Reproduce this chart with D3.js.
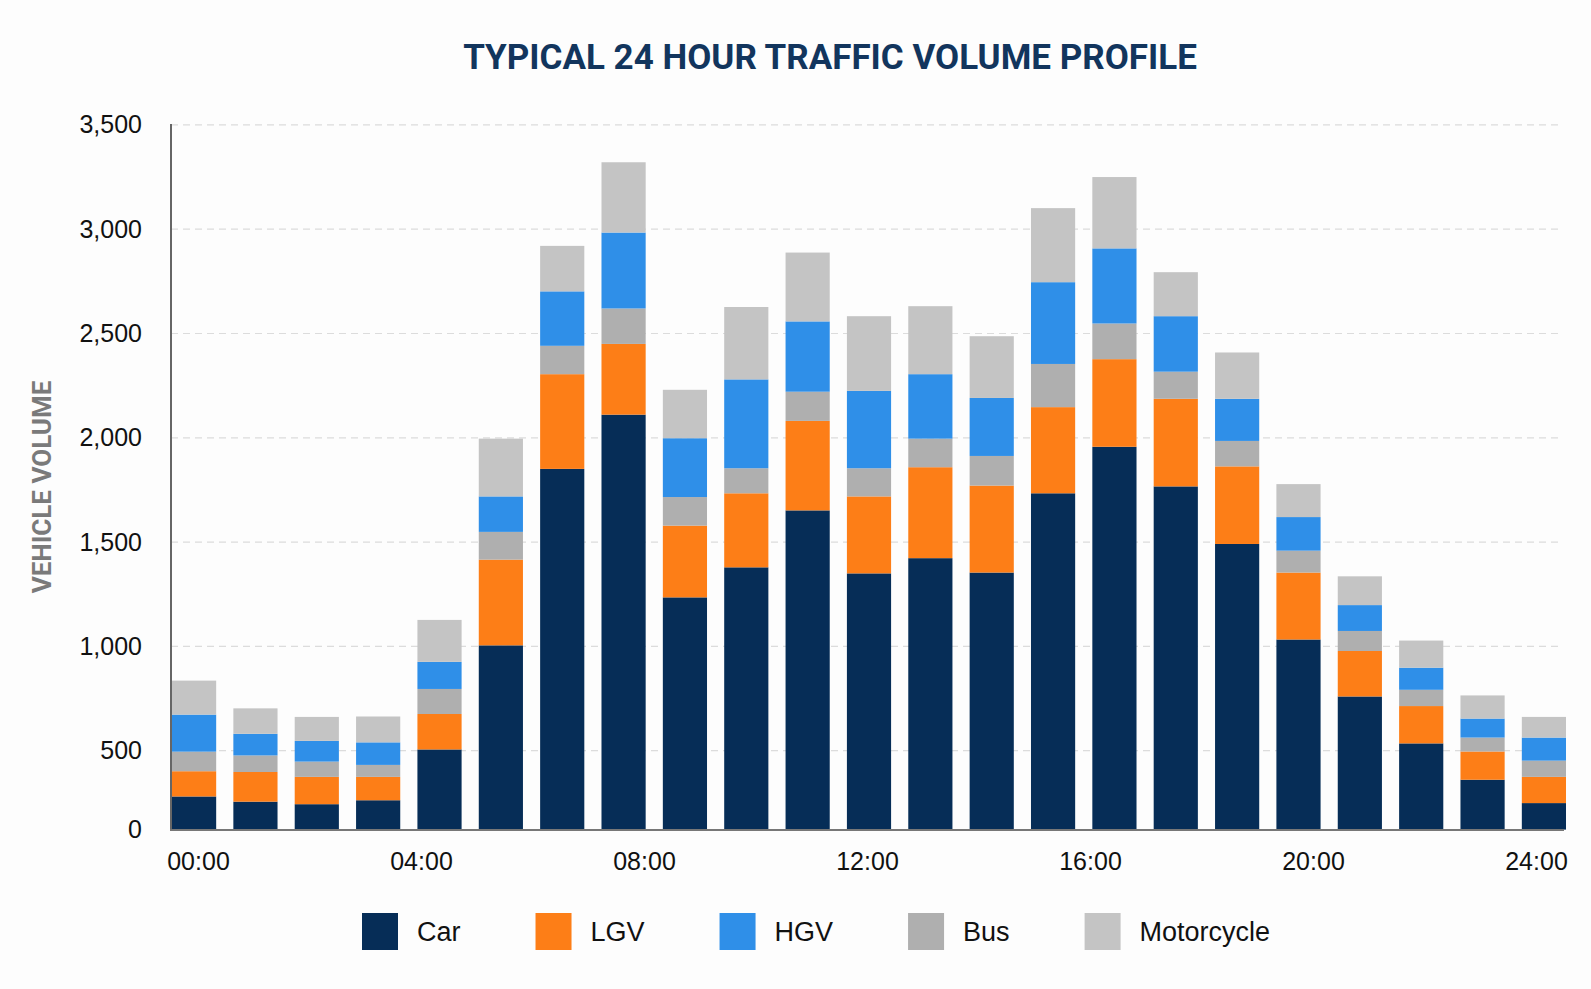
<!DOCTYPE html>
<html>
<head>
<meta charset="utf-8">
<script src="https://cdn.jsdelivr.net/npm/d3@7"></script>
<style>
  body { margin: 0; background: #fdfdfd; }
  text { font-family: "Liberation Sans", Arial, sans-serif; }
  .grid-line { stroke: #dcdcdc; stroke-width: 1.2; stroke-dasharray: 7 5; }
</style>
</head>
<body>
<div id="chart"></div>
<script>
// hourly categories (one bar per hour)
var hours = ["00:00", "01:00", "02:00", "03:00", "04:00", "05:00", "06:00", "07:00",
  "08:00", "09:00", "10:00", "11:00", "12:00", "13:00", "14:00", "15:00",
  "16:00", "17:00", "18:00", "19:00", "20:00", "21:00", "22:00"];

var car  = [210, 177, 161, 186, 506, 1005, 1851, 2111, 1235, 1379, 1652, 1350, 1423, 1354, 1734, 1957, 1767, 1491, 1033, 760, 535, 316, 168];
var lgv  = [160, 188, 173, 148, 170, 411, 454, 339, 344, 355, 429, 369, 436, 417, 413, 420, 420, 372, 321, 218, 179, 179, 166];
var bus  = [124, 105, 97, 76, 120, 133, 136, 170, 137, 120, 140, 135, 137, 142, 207, 171, 130, 122, 105, 96, 78, 68, 103];
var hgv  = [179, 111, 116, 130, 130, 170, 261, 364, 282, 426, 337, 371, 309, 278, 392, 360, 266, 202, 161, 124, 106, 91, 126];
var moto = [163, 122, 115, 124, 201, 277, 218, 337, 232, 347, 330, 358, 326, 296, 355, 342, 211, 222, 158, 138, 130, 111, 99];

var xTickLabels = ["00:00", "04:00", "08:00", "12:00", "16:00", "20:00", "24:00"];
var yTicks = [0, 500, 1000, 1500, 2000, 2500, 3000, 3500];

var seriesNames  = ["Car", "LGV", "HGV", "Bus", "Motorcycle"];   // legend order
var stackOrder   = ["Car", "LGV", "Bus", "HGV", "Motorcycle"];   // drawing order, bottom up
var seriesColors = {Car: "#062d57", LGV: "#fd7e17", HGV: "#2f8fe8", Bus: "#afafaf", Motorcycle: "#c4c4c4"};

var width = 1591, height = 989;

var rows = hours.map(function (h, i) {
  return {hour: h, Car: car[i], LGV: lgv[i], Bus: bus[i], HGV: hgv[i], Motorcycle: moto[i]};
});

var svg = d3.select("#chart").append("svg")
    .attr("width", width)
    .attr("height", height);

// the printed axis is squeezed below 500
var y = d3.scaleLinear()
    .domain([0, 500, 3500])
    .range([829.6, 750.7, 124.9]);

var x = d3.scaleBand()
    .domain(hours)
    .range([172, 1566])
    .paddingInner(0.28)
    .paddingOuter(0);

var xLabel = d3.scalePoint()
    .domain(xTickLabels)
    .range([198, 1536]);

// grid
svg.append("g")
    .selectAll("line")
    .data(yTicks.filter(function (d) { return d > 0; }))
    .enter().append("line")
    .attr("class", "grid-line")
    .attr("x1", 171)
    .attr("x2", 1560)
    .attr("y1", function (d) { return y(d); })
    .attr("y2", function (d) { return y(d); });

// stacked bars
var stacked = d3.stack().keys(stackOrder)(rows);

svg.append("g")
    .selectAll("g")
    .data(stacked)
    .enter().append("g")
    .attr("fill", function (s) { return seriesColors[s.key]; })
    .selectAll("rect")
    .data(function (s) { return s; })
    .enter().append("rect")
    .attr("x", function (d) { return x(d.data.hour); })
    .attr("width", x.bandwidth())
    .attr("y", function (d) { return y(d[1]); })
    .attr("height", function (d) { return y(d[0]) - y(d[1]); });

// axes
var yAxis = d3.axisLeft(y)
    .tickValues(yTicks)
    .tickSize(0)
    .tickPadding(29)
    .tickFormat(d3.format(","));

var yAxisG = svg.append("g")
    .attr("transform", "translate(171,0)")
    .call(yAxis);
yAxisG.select(".domain").remove();
yAxisG.selectAll("text")
    .style("font-size", "25px")
    .attr("fill", "#111");

var xAxisG = svg.append("g")
    .attr("transform", "translate(0,830)")
    .call(d3.axisBottom(xLabel).tickSize(0).tickPadding(22));
xAxisG.select(".domain").remove();
xAxisG.selectAll("text")
    .style("font-size", "25px")
    .attr("fill", "#111");

svg.append("line")
    .attr("x1", 171).attr("x2", 171)
    .attr("y1", 124).attr("y2", 830)
    .attr("stroke", "#666").attr("stroke-width", 2);
svg.append("line")
    .attr("x1", 170).attr("x2", 1564)
    .attr("y1", 830).attr("y2", 830)
    .attr("stroke", "#777").attr("stroke-width", 2);

// titles
svg.append("text")
    .attr("x", 830)
    .attr("y", 69)
    .attr("text-anchor", "middle")
    .style("font-family", "Roboto, sans-serif")
    .style("font-weight", "700")
    .style("font-size", "35px")
    .attr("fill", "#12355d")
    .text("TYPICAL 24 HOUR TRAFFIC VOLUME PROFILE");

svg.append("text")
    .attr("transform", "translate(51,487) rotate(-90)")
    .attr("text-anchor", "middle")
    .style("font-family", "Roboto, sans-serif")
    .style("font-weight", "700")
    .style("font-size", "26px")
    .attr("fill", "#7a7a7a")
    .text("VEHICLE VOLUME");

// legend
var legendG = svg.append("g").attr("transform", "translate(362,913)");
var lx = 0;
seriesNames.forEach(function (name) {
  var item = legendG.append("g").attr("transform", "translate(" + lx + ",0)");
  item.append("rect")
      .attr("width", 36)
      .attr("height", 37)
      .attr("fill", seriesColors[name]);
  var t = item.append("text")
      .attr("x", 55)
      .attr("y", 28)
      .style("font-size", "27px")
      .attr("fill", "#111")
      .text(name);
  lx += 55 + t.node().getComputedTextLength() + 75;
});
</script>
</body>
</html>
